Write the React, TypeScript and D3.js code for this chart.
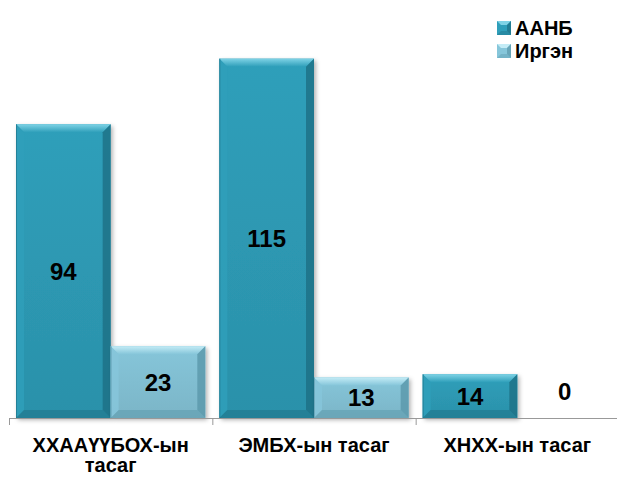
import React from 'react';
import * as d3 from 'd3';

const categories = ['ХХААҮҮБОХ-ын тасаг', 'ЭМБХ-ын тасаг', 'ХНХХ-ын тасаг'];
const categoryLines = [['ХХААҮҮБОХ-ын', 'тасаг'], ['ЭМБХ-ын тасаг'], ['ХНХХ-ын тасаг']];
const seriesNames = ['ААНБ', 'Иргэн'];
const aanbValues = [94, 115, 14];
const irgenValues = [23, 13, 0];

const W = 617;
const H = 477;
const margin = { top: 43, right: -2, bottom: 59, left: 9 };

const colors = [
  { base: '#2f9fba', light: '#7fd3e6', dark: '#1d6f84' },
  { base: '#86c6da', light: '#c4ecf6', dark: '#5a97aa' },
];

const App: React.FC = () => {
  const plotW = W - margin.left - margin.right;
  const baseY = H - margin.bottom;

  const x0 = d3.scaleBand<string>().domain(categories).range([margin.left, margin.left + plotW]).paddingInner(0).paddingOuter(0);
  const x1 = d3.scaleBand<string>().domain(seriesNames).range([0, x0.bandwidth()]).paddingInner(0).paddingOuter(0.074);
  const y = d3.scaleLinear().domain([0, 120]).range([baseY, margin.top]);

  const series = [aanbValues, irgenValues];
  const bev = 8;

  return (
    <svg width={W} height={H} style={{ position: 'absolute', left: 0, top: 0, fontFamily: 'Liberation Sans, Arial, sans-serif' }}>
      <defs>
        {colors.map((c, i) => (
          <React.Fragment key={i}>
            <linearGradient id={`face${i}`} x1="0" y1="0" x2="0" y2="1">
              <stop offset="0" stopColor={c.base} />
              <stop offset="1" stopColor={d3.color(c.base)!.darker(0.25).toString()} />
            </linearGradient>
            <linearGradient id={`top${i}`} x1="0" y1="0" x2="0" y2="1">
              <stop offset="0" stopColor={c.light} />
              <stop offset="1" stopColor={c.base} />
            </linearGradient>
          </React.Fragment>
        ))}
        <filter id="shadow" x="-10%" y="-10%" width="130%" height="130%">
          <feDropShadow dx="2" dy="2" stdDeviation="2" floodColor="#000" floodOpacity="0.3" />
        </filter>
      </defs>

      {/* bars */}
      {categories.map((cat, ci) =>
        seriesNames.map((s, si) => {
          const v = series[si][ci];
          if (v <= 0) return null;
          const bx = (x0(cat) ?? 0) + (x1(s) ?? 0);
          const bw = x1.bandwidth();
          const by = y(v);
          const bh = baseY - by;
          const c = colors[si];
          const b = Math.min(bev, bh / 2);
          return (
            <g key={`${ci}-${si}`}>
              <rect x={bx} y={by} width={bw} height={bh} fill={`url(#face${si})`} filter="url(#shadow)" />
              <polygon points={`${bx},${by} ${bx + bw},${by} ${bx + bw - b},${by + b} ${bx + b},${by + b}`} fill={`url(#top${si})`} />
              <polygon points={`${bx},${by} ${bx + b},${by + b} ${bx + b},${baseY - b} ${bx},${baseY}`} fill={c.base} opacity={0.85} />
              <polygon points={`${bx + bw},${by} ${bx + bw - b},${by + b} ${bx + bw - b},${baseY - b} ${bx + bw},${baseY}`} fill={c.dark} opacity={0.8} />
              <polygon points={`${bx},${baseY} ${bx + b},${baseY - b} ${bx + bw - b},${baseY - b} ${bx + bw},${baseY}`} fill={c.dark} opacity={0.5} />
              <line x1={bx + 0.5} x2={bx + 0.5} y1={by} y2={baseY} stroke={c.dark} opacity={0.6} />
            </g>
          );
        })
      )}

      {/* value labels */}
      {categories.map((cat, ci) =>
        seriesNames.map((s, si) => {
          const v = series[si][ci];
          const cx = (x0(cat) ?? 0) + (x1(s) ?? 0) + x1.bandwidth() / 2;
          const cy = v > 0 ? (y(v) + baseY) / 2 : baseY - 27;
          return (
            <text key={`l${ci}-${si}`} x={cx} y={cy} dy="0.36em" textAnchor="middle" fontSize={24} fontWeight="bold" fill="#000">
              {v}
            </text>
          );
        })
      )}

      {/* axis */}
      <line x1={margin.left} x2={W} y1={baseY + 0.5} y2={baseY + 0.5} stroke="#999" />
      {categories.map((cat) => (
        <line key={`t${cat}`} x1={(x0(cat) ?? 0) + 0.5} x2={(x0(cat) ?? 0) + 0.5} y1={baseY} y2={baseY + 7} stroke="#999" />
      ))}

      {/* category labels */}
      {categories.map((cat, ci) => (
        <text key={`c${cat}`} x={(x0(cat) ?? 0) + x0.bandwidth() / 2} y={baseY + 34} textAnchor="middle" fontSize={20} fontWeight="bold" fill="#000">
          {categoryLines[ci].map((ln, li) => (
            <tspan key={li} x={(x0(cat) ?? 0) + x0.bandwidth() / 2} dy={li === 0 ? 0 : 20}>{ln}</tspan>
          ))}
        </text>
      ))}

      {/* legend */}
      {seriesNames.map((s, si) => (
        <g key={`lg${s}`} transform={`translate(497, ${21 + si * 23})`}>
          <rect x={0} y={0} width={14} height={14} fill={colors[si].base} />
          <polygon points="0,0 14,0 10,4 4,4" fill={colors[si].light} />
          <polygon points="14,0 14,14 10,10 10,4" fill={colors[si].dark} opacity={0.7} />
          <polygon points="0,14 14,14 10,10 4,10" fill={colors[si].dark} opacity={0.4} />
          <text x={18} y={7} dy="0.36em" fontSize={20} fontWeight="bold" fill="#000">{s}</text>
        </g>
      ))}
    </svg>
  );
};

export default App;
